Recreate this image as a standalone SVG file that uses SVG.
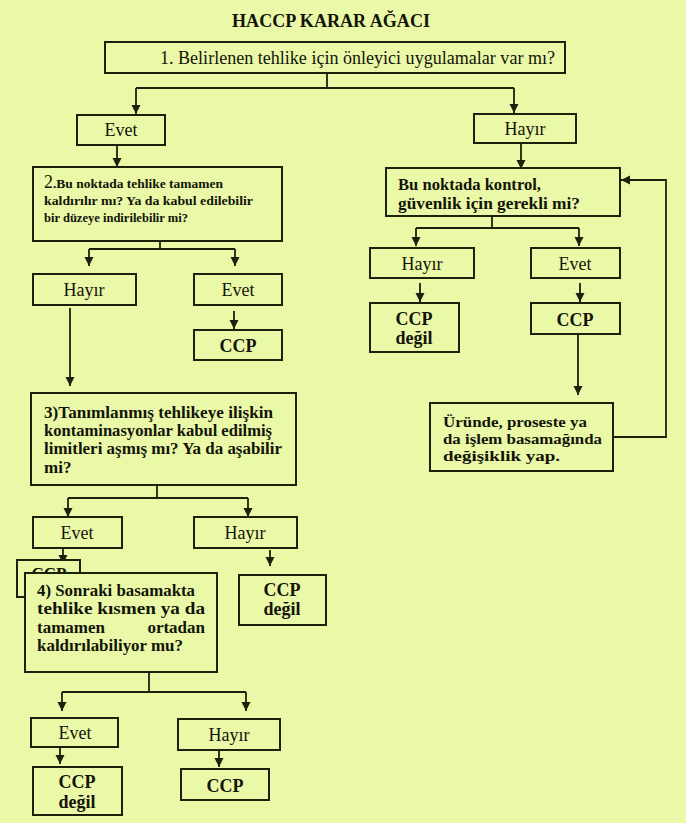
<svg xmlns="http://www.w3.org/2000/svg" width="686" height="823" viewBox="0 0 686 823">
<style>
.bx{fill:#EAF9A8;stroke:#1f200c;stroke-width:2}
.ln{fill:none;stroke:#1f200c;stroke-width:1.8}
.ar{fill:none;stroke:#1f200c;stroke-width:1.8;marker-end:url(#ah)}
text{font-family:"Liberation Serif","Times New Roman",serif;fill:#141408}
.r{font-size:18px}
.l{font-size:18px;text-anchor:middle}
.b{font-size:17px;font-weight:bold}
.bu{font-size:15px;font-weight:bold}
.bc{font-size:18px;font-weight:bold;text-anchor:middle}
.s{font-size:13.5px;font-weight:bold}
</style>
<defs>
<marker id="ah" markerUnits="userSpaceOnUse" markerWidth="10" markerHeight="10" refX="9" refY="5" orient="auto">
<path d="M0,0.5 L9,5 L0,9.5 Z" fill="#1f200c"/>
</marker>
<clipPath id="cc"><rect x="17" y="555" width="70" height="18"/></clipPath>
</defs>
<rect width="686" height="823" fill="#EAF9A8"/>
<text x="232" y="27" style="font-size:18px;font-weight:bold" textLength="198" lengthAdjust="spacingAndGlyphs">HACCP KARAR AĞACI</text>

<g id="connectors">
<polyline class="ln" points="327,73 327,88"/>
<polyline class="ar" points="136,88 136,114"/>
<polyline class="ln" points="136,88 514,88"/>
<polyline class="ar" points="514,88 514,113"/>
<polyline class="ar" points="117,145 117,167"/>
<polyline class="ln" points="160,234 160,249"/>
<polyline class="ln" points="89,249 235,249"/>
<polyline class="ar" points="89,249 89,266"/>
<polyline class="ar" points="235,249 235,266"/>
<polyline class="ar" points="234,311 234,329"/>
<polyline class="ar" points="70,308 70,386"/>
<polyline class="ln" points="157,485 157,498"/>
<polyline class="ln" points="68,498 248,498"/>
<polyline class="ar" points="68,498 68,517"/>
<polyline class="ar" points="248,498 248,517"/>
<polyline class="ar" points="63,549 63,564"/>
<polyline class="ar" points="270,550 270,566"/>
<polyline class="ln" points="149,672 149,692"/>
<polyline class="ln" points="62,692 246,692"/>
<polyline class="ar" points="62,692 62,711"/>
<polyline class="ar" points="246,692 246,711"/>
<polyline class="ar" points="60,748 60,764"/>
<polyline class="ar" points="219,751 219,767"/>
<polyline class="ar" points="521,143 521,169"/>
<polyline class="ln" points="492,216 492,228"/>
<polyline class="ln" points="416,228 579,228"/>
<polyline class="ar" points="416,228 416,246"/>
<polyline class="ar" points="579,228 579,246"/>
<polyline class="ar" points="420,283 420,302"/>
<polyline class="ar" points="580,283 580,302"/>
<polyline class="ar" points="578,334 578,395"/>
<polyline class="ar" points="613,437 666,437 666,180 621,180"/>
</g>

<g id="q1">
<rect class="bx" x="105" y="42" width="460" height="31"/>
<text x="160" y="64" class="r" textLength="395" lengthAdjust="spacingAndGlyphs">1. Belirlenen tehlike için önleyici uygulamalar var mı?</text>
</g>
<g id="evet1">
<rect class="bx" x="77" y="115" width="88" height="30"/>
<text x="121" y="136" class="l">Evet</text>
</g>
<g id="hayir1">
<rect class="bx" x="474" y="114" width="102" height="29"/>
<text x="525" y="135" class="l">Hayır</text>
</g>
<g id="q2">
<rect class="bx" x="33" y="167" width="249" height="74"/>
<text x="44" y="188" class="s" textLength="179" lengthAdjust="spacingAndGlyphs"><tspan style="font-size:18px;font-weight:normal">2</tspan>.Bu noktada tehlike tamamen</text>
<text x="44" y="205" class="s" textLength="209" lengthAdjust="spacingAndGlyphs">kaldırılır mı? Ya da kabul edilebilir</text>
<text x="44" y="222" class="s" textLength="144" lengthAdjust="spacingAndGlyphs">bir düzeye indirilebilir mi?</text>
</g>
<g id="hayir2">
<rect class="bx" x="33" y="274" width="103" height="31"/>
<text x="84" y="296" class="l">Hayır</text>
</g>
<g id="evet2">
<rect class="bx" x="194" y="274" width="88" height="31"/>
<text x="238" y="296" class="l">Evet</text>
</g>
<g id="ccp2">
<rect class="bx" x="194" y="330" width="88" height="30"/>
<text x="238" y="352" class="bc">CCP</text>
</g>
<g id="q3">
<rect class="bx" x="31" y="393" width="265" height="92"/>
<text x="44" y="418" class="b" textLength="229" lengthAdjust="spacingAndGlyphs">3)Tanımlanmış tehlikeye ilişkin</text>
<text x="44" y="436" class="b" textLength="228" lengthAdjust="spacingAndGlyphs">kontaminasyonlar kabul edilmiş</text>
<text x="44" y="454" class="b" textLength="238" lengthAdjust="spacingAndGlyphs">limitleri aşmış mı? Ya da aşabilir</text>
<text x="44" y="473" class="b">mi?</text>
</g>
<g id="evet3">
<rect class="bx" x="33" y="517" width="89" height="31"/>
<text x="77" y="539" class="l">Evet</text>
</g>
<g id="hayir3">
<rect class="bx" x="194" y="517" width="103" height="31"/>
<text x="245" y="539" class="l">Hayır</text>
</g>
<g id="ccp3">
<rect class="bx" x="17" y="560" width="63" height="37"/>
<text x="49" y="579" class="bc" clip-path="url(#cc)" style="font-size:17px">CCP</text>
</g>
<g id="ccpdegil3">
<rect class="bx" x="239" y="575" width="87" height="50"/>
<text x="282" y="596" class="bc">CCP</text>
<text x="282" y="615" class="bc">değil</text>
</g>
<g id="q4">
<rect class="bx" x="25" y="573" width="192" height="99"/>
<text x="37" y="596" class="b" textLength="158" lengthAdjust="spacingAndGlyphs">4) Sonraki basamakta</text>
<text x="37" y="614" class="b" textLength="168" lengthAdjust="spacingAndGlyphs">tehlike  kısmen  ya  da</text>
<text x="37" y="633" class="b">tamamen</text>
<text x="205" y="633" class="b" text-anchor="end">ortadan</text>
<text x="37" y="651" class="b" textLength="146" lengthAdjust="spacingAndGlyphs">kaldırılabiliyor mu?</text>
</g>
<g id="evet4">
<rect class="bx" x="31" y="718" width="87" height="29"/>
<text x="75" y="739" class="l">Evet</text>
</g>
<g id="hayir4">
<rect class="bx" x="178" y="719" width="102" height="31"/>
<text x="229" y="741" class="l">Hayır</text>
</g>
<g id="ccpdegil4">
<rect class="bx" x="33" y="767" width="89" height="48"/>
<text x="77" y="788" class="bc">CCP</text>
<text x="77" y="808" class="bc">değil</text>
</g>
<g id="ccp4">
<rect class="bx" x="181" y="769" width="88" height="31"/>
<text x="225" y="792" class="bc">CCP</text>
</g>
<g id="qr">
<rect class="bx" x="386" y="168" width="234" height="48"/>
<text x="398" y="190" class="b" textLength="143" lengthAdjust="spacingAndGlyphs">Bu noktada kontrol,</text>
<text x="398" y="209" class="b" textLength="182" lengthAdjust="spacingAndGlyphs">güvenlik için gerekli mi?</text>
</g>
<g id="hayirr">
<rect class="bx" x="370" y="248" width="104" height="30"/>
<text x="422" y="270" class="l">Hayır</text>
</g>
<g id="evetr">
<rect class="bx" x="531" y="248" width="89" height="30"/>
<text x="575" y="270" class="l">Evet</text>
</g>
<g id="ccpdegilr">
<rect class="bx" x="370" y="303" width="89" height="49"/>
<text x="414" y="325" class="bc">CCP</text>
<text x="414" y="344" class="bc">değil</text>
</g>
<g id="ccpr">
<rect class="bx" x="531" y="303" width="89" height="31"/>
<text x="575" y="326" class="bc">CCP</text>
</g>
<g id="degisiklik">
<rect class="bx" x="430" y="403" width="183" height="68"/>
<text x="443" y="427" class="bu" textLength="144" lengthAdjust="spacingAndGlyphs">Üründe, proseste ya</text>
<text x="443" y="444" class="bu" textLength="159" lengthAdjust="spacingAndGlyphs">da işlem basamağında</text>
<text x="443" y="461" class="bu" textLength="117" lengthAdjust="spacingAndGlyphs">değişiklik yap.</text>
</g>
</svg>
